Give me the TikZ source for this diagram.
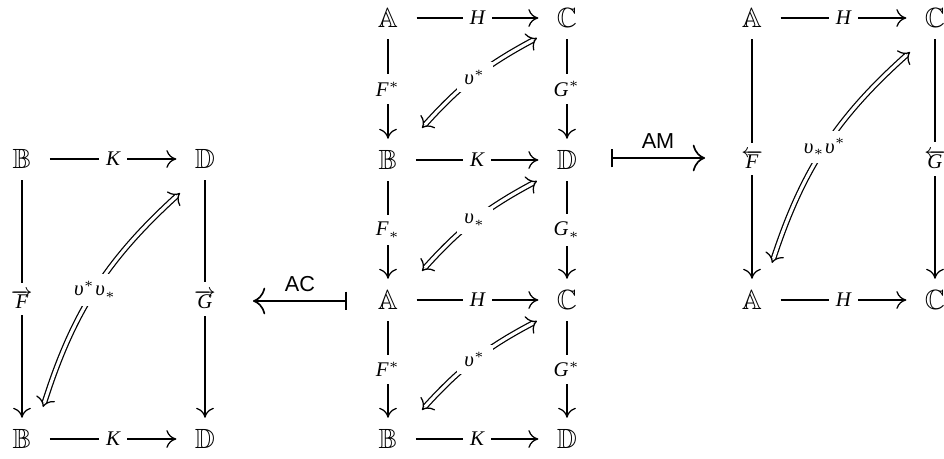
\documentclass[tikz,border=0pt]{standalone}
\usepackage{amssymb}
\usepackage[no-math]{fontspec}
\newfontfamily\lsans{Liberation Sans}
\newfontfamily\tmi{Liberation Serif}[ItalicFont=* Italic]
\newcommand{\vi}[1]{\mbox{\tmi\itshape #1}}
\usetikzlibrary{arrows.meta,decorations.markings}
\tikzset{
  obj/.style={inner xsep=0.65em, inner ysep=0.4em},
  arr/.style={line width=0.45pt, -{Computer Modern Rightarrow[length=3.6pt,width=6.4pt]}},
  lab/.style={fill=white, inner sep=2.6pt, anchor=center, font=\fontsize{7.5pt}{9pt}\selectfont},
  dbl/.style={line width=0.45pt, double, double distance=1.15pt, shorten <=1.6pt, shorten >=1.6pt},
  dbltips/.style={decorate, decoration={markings,
    mark=at position 0 with {\arrowreversed[line width=0.45pt]{Computer Modern Rightarrow[length=3.3pt,width=7pt]}},
    mark=at position 1 with {\arrow[line width=0.45pt]{Computer Modern Rightarrow[length=3.3pt,width=7pt]}}}},
  maps/.style={line width=0.6pt, {Bar[width=6.8pt]}-{Computer Modern Rightarrow[length=4.4pt,width=9.6pt]}},
  bigl/.style={font=\fontsize{7.8pt}{9pt}\lsans, inner sep=0.3em}
}
\newcommand{\twocell}[4][10]{%
  \draw[dbl] (#2) to[bend left=#1] node[lab]{#4} (#3);
  \path[dbltips] (#2) to[bend left=#1] (#3);}
\begin{document}
\begin{tikzpicture}[x=0.36pt,y=0.36pt]
\useasboundingbox (0,0) rectangle (944,-459);
% left square
\node[obj] (lB) at (22,-159) {$\mathbb{B}$};
\node[obj] (lD) at (205,-159) {$\mathbb{D}$};
\node[obj] (lB2) at (22,-439) {$\mathbb{B}$};
\node[obj] (lD2) at (205,-439) {$\mathbb{D}$};
\draw[arr] (lB) -- node[lab]{\vi{K}} (lD);
\draw[arr] (lB2) -- node[lab]{\vi{K}} (lD2);
\draw[arr] (lB) -- node[lab]{$\overrightarrow{\vi{F}}$} (lB2);
\draw[arr] (lD) -- node[lab]{$\overrightarrow{\vi{G}}$} (lD2);
\coordinate (l1) at (43,-407);
\coordinate (l2) at (180,-193);
\twocell[15]{l1}{l2}{$\vi{υ}^*\vi{υ}_*$}
% middle column
\node[obj] (mA1) at (388,-18) {$\mathbb{A}$};
\node[obj] (mC1) at (567,-18) {$\mathbb{C}$};
\node[obj] (mB1) at (388,-160) {$\mathbb{B}$};
\node[obj] (mD1) at (567,-160) {$\mathbb{D}$};
\node[obj] (mA2) at (388,-300) {$\mathbb{A}$};
\node[obj] (mC2) at (567,-300) {$\mathbb{C}$};
\node[obj] (mB2) at (388,-439) {$\mathbb{B}$};
\node[obj] (mD2) at (567,-439) {$\mathbb{D}$};
\draw[arr] (mA1) -- node[lab]{\vi{H}} (mC1);
\draw[arr] (mB1) -- node[lab]{\vi{K}} (mD1);
\draw[arr] (mA2) -- node[lab]{\vi{H}} (mC2);
\draw[arr] (mB2) -- node[lab]{\vi{K}} (mD2);
\draw[arr] (mA1) -- node[lab]{$\vi{F}^*$} (mB1);
\draw[arr] (mC1) -- node[lab]{$\vi{G}^*$} (mD1);
\draw[arr] (mB1) -- node[lab]{$\vi{F}_*$} (mA2);
\draw[arr] (mD1) -- node[lab]{$\vi{G}_*$} (mC2);
\draw[arr] (mA2) -- node[lab]{$\vi{F}^*$} (mB2);
\draw[arr] (mC2) -- node[lab]{$\vi{G}^*$} (mD2);
\coordinate (m1a) at (422,-128);
\coordinate (m1b) at (537,-38);
\coordinate (m2a) at (422,-271);
\coordinate (m2b) at (537,-181);
\coordinate (m3a) at (422,-410);
\coordinate (m3b) at (537,-321);
\twocell[10]{m1a}{m1b}{$\vi{υ}^*$}
\twocell[10]{m2a}{m2b}{$\vi{υ}_*$}
\twocell[10]{m3a}{m3b}{$\vi{υ}^*$}
% AC and AM
\coordinate (acS) at (347,-301);
\coordinate (acE) at (253,-301);
\draw[maps] (acS) -- node[bigl, above]{AC} (acE);
\coordinate (amS) at (611,-158);
\coordinate (amE) at (705,-158);
\draw[maps] (amS) -- node[bigl, above]{AM} (amE);
% right square
\node[obj] (rA) at (752,-18) {$\mathbb{A}$};
\node[obj] (rC) at (935,-18) {$\mathbb{C}$};
\node[obj] (rA2) at (752,-300) {$\mathbb{A}$};
\node[obj] (rC2) at (935,-300) {$\mathbb{C}$};
\draw[arr] (rA) -- node[lab]{\vi{H}} (rC);
\draw[arr] (rA2) -- node[lab]{\vi{H}} (rC2);
\draw[arr] (rA) -- node[lab]{$\overleftarrow{\vi{F}}$} (rA2);
\draw[arr] (rC) -- node[lab]{$\overleftarrow{\vi{G}}$} (rC2);
\coordinate (r1) at (772,-263);
\coordinate (r2) at (910,-52);
\twocell[15]{r1}{r2}{$\vi{υ}_*\vi{υ}^*$}
\end{tikzpicture}
\end{document}
